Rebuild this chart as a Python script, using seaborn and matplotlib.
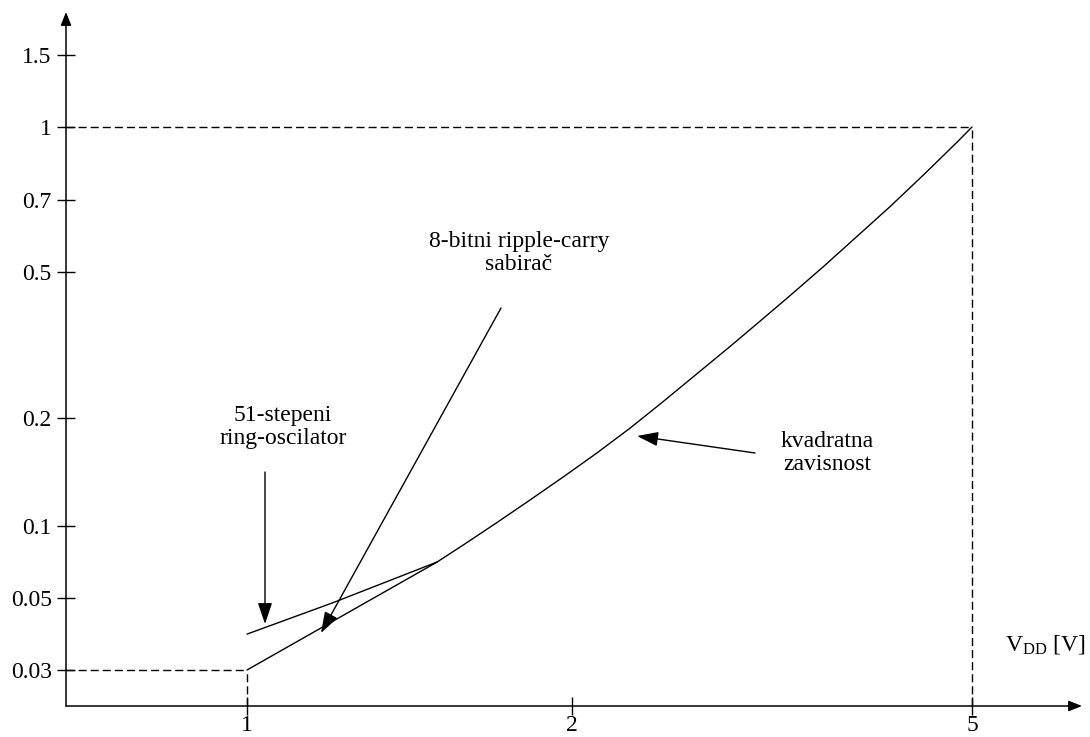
import numpy as np
import matplotlib
matplotlib.use("Agg")
import matplotlib.pyplot as plt
from matplotlib.ticker import NullLocator
import seaborn as sns

# ---- data -------------------------------------------------------------
vdd_ticks = [1, 2, 5]
vdd_tick_labels = ["1", "2", "5"]
energy_ticks = [0.03, 0.05, 0.1, 0.2, 0.5, 0.7, 1, 1.5]
energy_tick_labels = ["0.03", "0.05", "0.1", "0.2", "0.5", "0.7", "1", "1.5"]

# quadratic dependence of energy on supply voltage
quad_vdd = [1.50, 1.586, 1.703, 1.829, 1.963, 2.117, 2.285, 2.465, 2.661,
            2.872, 3.053, 3.296, 3.557, 3.839, 4.144, 4.473, 4.828, 5.0]
quad_energy = [0.0707, 0.0833, 0.1021, 0.1182, 0.1370, 0.1597, 0.1875, 0.2218,
               0.2636, 0.3132, 0.3607, 0.4312, 0.5126, 0.5896, 0.6786, 0.7909,
               0.9270, 1.0]

# 8-bit ripple-carry adder
adder_vdd = [1.0, 1.5]
adder_energy = [0.03, 0.0707]

# 51-stage ring oscillator
ring_vdd = [1.0, 1.2, 1.5]
ring_energy = [0.0387, 0.0483, 0.0707]

# reference levels (dashed guides)
ref_low = (1.0, 0.03)
ref_high = (5.0, 1.0)

# ---- layout (pixels, origin top-left) ----------------------------------
W, H = 1090, 737
AX_L, AX_R, AX_T, AX_B = 66, 1082, 12, 706
x_tick_px = [247, 572, 972]
y_tick_px = [670, 598, 526, 418, 272, 200, 127, 55]
FONT = 17

sns.set_theme(style="ticks")
plt.rcParams["font.family"] = ["Liberation Serif", "DejaVu Serif"]
plt.rcParams["mathtext.fontset"] = "custom"
plt.rcParams["mathtext.rm"] = "Liberation Serif"
plt.rcParams["mathtext.it"] = "Liberation Serif:italic"


def _lin(z, xs, ys):
    """Piecewise-linear map with linear extrapolation past the end knots."""
    xs = np.asarray(xs, float)
    ys = np.asarray(ys, float)
    out = np.interp(z, xs, ys)
    s0 = (ys[1] - ys[0]) / (xs[1] - xs[0])
    s1 = (ys[-1] - ys[-2]) / (xs[-1] - xs[-2])
    out = np.where(z < xs[0], ys[0] + (z - xs[0]) * s0, out)
    out = np.where(z > xs[-1], ys[-1] + (z - xs[-1]) * s1, out)
    return out


def make_scale(values, fracs):
    """Log axis whose tick values sit at the given axis fractions."""
    lv = np.log10(np.asarray(values, float))
    fr = np.asarray(fracs, float)

    def fwd(v):
        v = np.asarray(v, float)
        with np.errstate(all="ignore"):
            z = np.log10(np.where(v > 0, v, np.nan))
        return _lin(z, lv, fr)

    def inv(p):
        return 10 ** _lin(np.asarray(p, float), fr, lv)

    return fwd, inv


x_fr = [(p - AX_L) / (AX_R - AX_L) for p in x_tick_px]
y_fr = [(AX_B - p) / (AX_B - AX_T) for p in y_tick_px]
x_fwd, x_inv = make_scale(vdd_ticks, x_fr)
y_fwd, y_inv = make_scale(energy_ticks, y_fr)

fig = plt.figure(figsize=(W / 100, H / 100), dpi=100)
ax = fig.add_axes([AX_L / W, 1 - AX_B / H, (AX_R - AX_L) / W, (AX_B - AX_T) / H])
ax.set_xscale("function", functions=(x_fwd, x_inv))
ax.set_yscale("function", functions=(y_fwd, y_inv))
x0, x1 = float(x_inv(0.0)), float(x_inv(1.0))
y0, y1 = float(y_inv(0.0)), float(y_inv(1.0))
ax.set_xlim(x0, x1)
ax.set_ylim(y0, y1)

# curves
line_kw = dict(color="black", linewidth=1.0, sort=False, estimator=None, ax=ax)
sns.lineplot(x=quad_vdd, y=quad_energy, **line_kw)
sns.lineplot(x=adder_vdd, y=adder_energy, **line_kw)
sns.lineplot(x=ring_vdd, y=ring_energy, **line_kw)

# dashed reference guides
dash_kw = dict(color="black", linewidth=1.0, linestyle=(0, (5.8, 2.9)), clip_on=False)
ax.plot([x0, ref_low[0]], [ref_low[1], ref_low[1]], **dash_kw)
ax.plot([ref_low[0], ref_low[0]], [y0, ref_low[1]], **dash_kw)
ax.plot([x0, ref_high[0]], [ref_high[1], ref_high[1]], **dash_kw)
ax.plot([ref_high[0], ref_high[0]], [y0, ref_high[1]], **dash_kw)

# ticks
ax.set_xticks(vdd_ticks, labels=vdd_tick_labels)
ax.set_yticks(energy_ticks, labels=energy_tick_labels)
ax.xaxis.set_minor_locator(NullLocator())
ax.yaxis.set_minor_locator(NullLocator())
ax.tick_params(axis="both", direction="inout", length=13.5, width=1.0,
               colors="black", labelsize=FONT)
ax.tick_params(axis="x", pad=0)
ax.tick_params(axis="y", pad=3.5)
for s in ax.spines.values():
    s.set_visible(False)
ax.set_xlabel("")
ax.set_ylabel("")

# axis lines with arrowheads
axis_arrow = dict(arrowstyle="-|>,head_length=0.4,head_width=0.16",
                  mutation_scale=20, color="black", lw=1.1,
                  shrinkA=0, shrinkB=0)
ax.annotate("", xy=(0, 1), xytext=(0, 0), xycoords="axes fraction",
            textcoords="axes fraction", arrowprops=axis_arrow, annotation_clip=False)
ax.annotate("", xy=(1, 0), xytext=(0, 0), xycoords="axes fraction",
            textcoords="axes fraction", arrowprops=axis_arrow, annotation_clip=False)


def fxy(px, py):
    return (px / W, 1 - py / H)


pointer = dict(arrowstyle="-|>,head_length=0.65,head_width=0.22",
               mutation_scale=20, color="black", lw=1.0, shrinkA=0, shrinkB=0)
for tail, tip in [((265, 472), (265, 624)),
                  ((501, 308), (321, 633)),
                  ((755, 453), (637, 436))]:
    ax.annotate("", xy=fxy(*tip), xytext=fxy(*tail), xycoords="figure fraction",
                textcoords="figure fraction", arrowprops=pointer,
                annotation_clip=False)

# labels
txt_kw = dict(ha="center", va="center", fontsize=FONT, linespacing=1.17, color="black")
fig.text(*fxy(283, 427), "51-stepeni\nring-oscilator", **txt_kw)
fig.text(*fxy(519, 253), "8-bitni ripple-carry\nsabirač", **txt_kw)
fig.text(*fxy(827, 453), "kvadratna\nzavisnost", **txt_kw)
fig.text(*fxy(1005, 651), r"V$_{\mathrm{DD}}$ [V]", ha="left", va="baseline",
         fontsize=FONT, color="black")

fig.savefig("out.png", dpi=100)
